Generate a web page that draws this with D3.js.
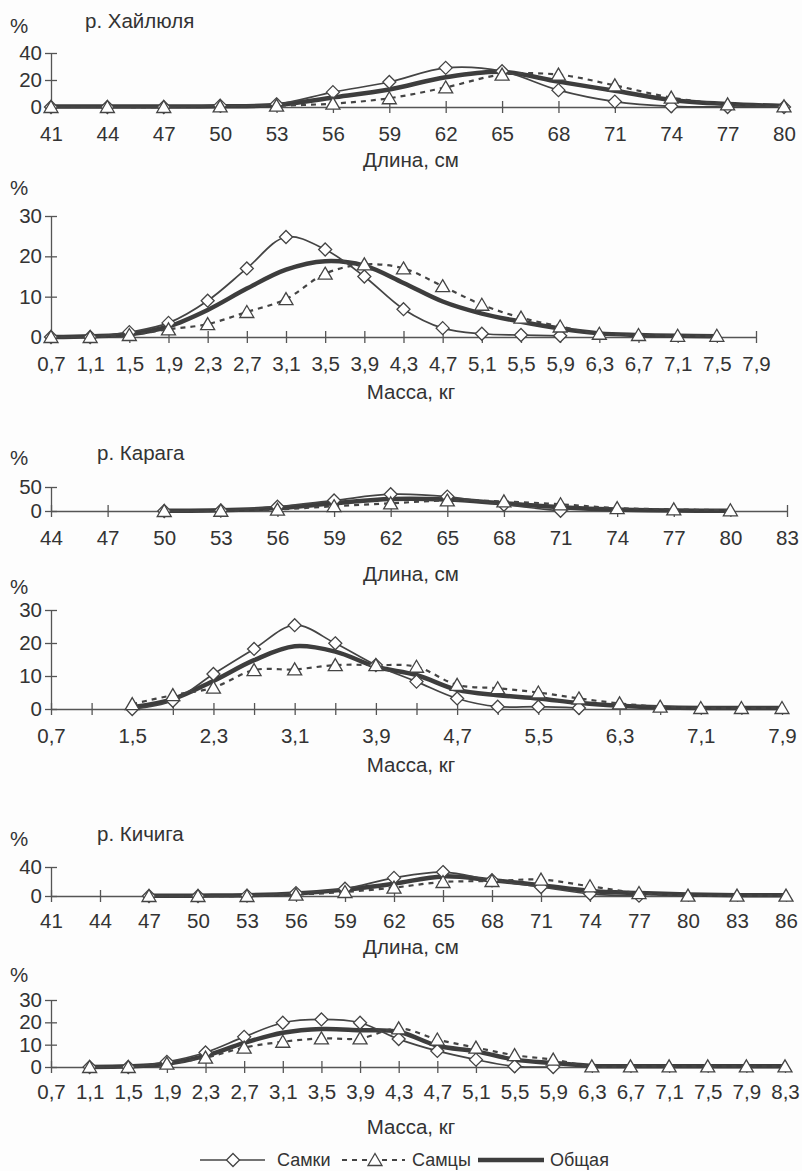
<!DOCTYPE html>
<meta charset="utf-8">
<style>
body { margin: 0; background: #fff; }
svg { font-family: "Liberation Sans", Arial, sans-serif; }
.lbl { fill: #333; font-size: 20.5px; }
.axis text { fill: #333; font-size: 20.5px; }
.axis path, .axis line { stroke: #555; stroke-width: 1.3; }
.fem-line { fill: none; stroke: #444; stroke-width: 1.7; }
.male-line { fill: none; stroke: #444; stroke-width: 2.2; stroke-dasharray: 5,5; }
.total-line { fill: none; stroke: #3d3d3d; stroke-width: 4.5; }
.mark { fill: #fff; stroke: #444; stroke-width: 1.3; }
.legend text { fill: #333; font-size: 18px; }
</style>
<body>
<script src="https://d3js.org/d3.v7.min.js"></script>
<script>

// --- categories (tick labels) ---
var lenHail = ["41","44","47","50","53","56","59","62","65","68","71","74","77","80"];
var massHail = ["0,7","1,1","1,5","1,9","2,3","2,7","3,1","3,5","3,9","4,3","4,7","5,1","5,5","5,9","6,3","6,7","7,1","7,5","7,9"];
var lenKar = ["44","47","50","53","56","59","62","65","68","71","74","77","80","83"];
var massKar = ["0,7","1,1","1,5","1,9","2,3","2,7","3,1","3,5","3,9","4,3","4,7","5,1","5,5","5,9","6,3","6,7","7,1","7,5","7,9"];
var lenKich = ["41","44","47","50","53","56","59","62","65","68","71","74","77","80","83","86"];
var massKich = ["0,7","1,1","1,5","1,9","2,3","2,7","3,1","3,5","3,9","4,3","4,7","5,1","5,5","5,9","6,3","6,7","7,1","7,5","7,9","8,3"];

// --- series values, % ---
var femLenHail   = [0,0,0,1,2,11,18.5,29,26.5,12.5,4,0.5,0,0];
var maleLenHail  = [0,0,0,0.5,1,2.5,6.5,14.5,24,24,16,7,2,0.5];
var totLenHail   = [0.3,0.3,0.3,0.5,1.5,7,13,22,26,18.8,12,5.2,2.2,0.8];

var femMassHail  = [0,0,1.2,3.5,9,17,24.8,21.7,15,6.9,2.2,0.8,0.5,0.3,null,null,null,null,null];
var maleMassHail = [0,0,0.5,1.9,3.2,6.2,9.4,15.7,18,17,12.6,8,4.8,2.6,0.8,0.5,0.3,0.3,null];
var totMassHail  = [0,0.2,0.7,2.6,6.7,12,16.7,18.8,17.7,13.4,8.8,5.8,3.8,2.1,0.9,0.5,0.3,0.2,null];

var femLenKar    = [null,null,0,1,9,22,35,30,13,0.5,null,null,null,null];
var maleLenKar   = [null,null,0,0.5,3,10,16,22,20,14,6,3.5,1.5,null];
var totLenKar    = [null,null,0.5,1.5,6,16,25,24,16,8,3,1,0.5,null];

var femMassKar   = [null,null,0,2.5,10.6,18.2,25.4,19.9,13.3,8.3,3.2,0.7,0.7,0.3,null,null,null,null,null];
var maleMassKar  = [null,null,1.5,4.2,6.5,11.8,12,13.3,13.3,12.8,7.3,6.3,5,3.2,1.7,0.7,0.3,0.3,0.3];
var totMassKar   = [null,null,0.5,3,8.5,14.8,19,17.4,12.8,10.3,5.8,4.2,3.2,1.8,1,0.5,0.3,0.3,0.3];

var femLenKich   = [null,null,0,0,0.5,4,10,25,33,21.7,12.4,3,0.5,null,null,null];
var maleLenKich  = [null,null,0,0,0,2,5.5,11.6,19.3,20.7,22.6,13.4,4.1,0.5,0.5,0.5];
var totLenKich   = [null,null,0.3,0.5,1,3.5,8.8,17,27,21.7,14.8,7,4,2,1,1];

var femMassKich  = [null,0,0,2.3,6.5,13.5,19.8,21.3,19.8,12.5,7.2,3.3,0.3,0,null,null,null,null,null,null];
var maleMassKich = [null,0,0,1.5,4.2,8.7,11.3,12.8,12.8,17.3,12.3,8.7,5.3,3.3,0.3,0.3,0.3,0.3,0.3,0.3];
var totMassKich  = [null,0,0.3,1.5,5,10.8,15.3,17,16.5,15.8,9.5,7,3.3,1.8,0.5,0.3,0.3,0.3,0.3,0.3];

var titles = ["р. Хайлюля", "р. Карага", "р. Кичига"];
var xTitles = ["Длина, см", "Масса, кг"];
var legendNames = ["Самки", "Самцы", "Общая"];

var panels = [
  {cats: lenHail, fem: femLenHail, male: maleLenHail, tot: totLenHail, ymax: 40, yticks: [0,20,40],
   x0: 51, x1: 784, y0: 107, ytop: 53, pctY: 33, title: titles[0], titleX: 85, labelY: 141, xTitle: xTitles[0], xTitleY: 167},
  {cats: massHail, fem: femMassHail, male: maleMassHail, tot: totMassHail, ymax: 30, yticks: [0,10,20,30],
   x0: 51, x1: 756, y0: 337, ytop: 216, pctY: 195, labelY: 371, xTitle: xTitles[1], xTitleY: 399},
  {cats: lenKar, fem: femLenKar, male: maleLenKar, tot: totLenKar, ymax: 50, yticks: [0,50],
   x0: 51, x1: 787, y0: 511, ytop: 487, pctY: 465, title: titles[1], titleX: 97, labelY: 545, xTitle: xTitles[0], xTitleY: 581},
  {cats: massKar, fem: femMassKar, male: maleMassKar, tot: totMassKar, ymax: 30, yticks: [0,10,20,30], every: 2,
   x0: 51, x1: 782, y0: 709, ytop: 610, pctY: 594, labelY: 743, xTitle: xTitles[1], xTitleY: 772},
  {cats: lenKich, fem: femLenKich, male: maleLenKich, tot: totLenKich, ymax: 40, yticks: [0,40],
   x0: 51, x1: 786, y0: 896, ytop: 867, pctY: 846, title: titles[2], titleX: 97, labelY: 928, xTitle: xTitles[0], xTitleY: 954},
  {cats: massKich, fem: femMassKich, male: maleMassKich, tot: totMassKich, ymax: 30, yticks: [0,10,20,30],
   x0: 51, x1: 785, y0: 1067, ytop: 1000, pctY: 982, labelY: 1099, xTitle: xTitles[1], xTitleY: 1134}
];

var diamond = "M0,-6.5L6.5,0L0,6.5L-6.5,0Z";
var triangle = "M0,-6.5L7,5.5L-7,5.5Z";

var svg = d3.select("body").append("svg")
    .attr("width", 802)
    .attr("height", 1171);

svg.append("rect").attr("width", 802).attr("height", 1171).attr("fill", "#fdfdfd");

function drawPanel(p) {
  var x = d3.scalePoint().domain(p.cats).range([p.x0, p.x1]);
  var y = d3.scaleLinear().domain([0, p.ymax]).range([p.y0, p.ytop]);
  var g = svg.append("g");

  var xa = g.append("g").attr("class", "axis")
      .attr("transform", "translate(0," + p.y0 + ")")
      .call(d3.axisBottom(x).tickSizeOuter(0).tickSizeInner(6)
        .tickFormat(function(d, i) { return p.every && i % p.every ? "" : d; }));
  xa.attr("font-size", null).attr("font-family", null);
  xa.selectAll(".tick line").attr("y1", -6).attr("y2", 6);
  xa.selectAll(".tick text").attr("dy", null).attr("y", p.labelY - p.y0);

  var ya = g.append("g").attr("class", "axis")
      .attr("transform", "translate(" + p.x0 + ",0)")
      .call(d3.axisLeft(y).tickValues(p.yticks).tickSizeOuter(0).tickSizeInner(6).tickPadding(3));
  ya.attr("font-size", null).attr("font-family", null);
  ya.selectAll(".tick line").attr("x1", -6).attr("x2", 6);

  g.append("text").attr("class", "lbl").attr("x", 10).attr("y", p.pctY).text("%");
  if (p.title) g.append("text").attr("class", "lbl").attr("x", p.titleX).attr("y", p.pctY - 5).text(p.title);
  g.append("text").attr("class", "lbl").attr("x", 411).attr("y", p.xTitleY)
      .attr("text-anchor", "middle").text(p.xTitle);

  var line = d3.line()
      .defined(function(d) { return d != null; })
      .x(function(d, i) { return x(p.cats[i]); })
      .y(function(d) { return y(d); })
      .curve(d3.curveCatmullRom.alpha(0.5));

  g.append("path").datum(p.tot).attr("class", "total-line").attr("d", line);
  g.append("path").datum(p.fem).attr("class", "fem-line").attr("d", line);
  g.append("path").datum(p.male).attr("class", "male-line").attr("d", line);

  [[p.fem, diamond], [p.male, triangle]].forEach(function(s) {
    g.selectAll(null)
      .data(s[0].map(function(v, i) { return {v: v, c: p.cats[i]}; }).filter(function(d) { return d.v != null; }))
      .enter().append("path")
      .attr("class", "mark")
      .attr("d", s[1])
      .attr("transform", function(d) { return "translate(" + x(d.c) + "," + y(d.v) + ")"; });
  });
}

panels.forEach(drawPanel);

// legend
var lg = svg.append("g").attr("class", "legend").attr("transform", "translate(0,1160)");
lg.append("line").attr("class", "fem-line").attr("x1", 200).attr("x2", 265).attr("y1", 0).attr("y2", 0);
lg.append("path").attr("class", "mark").attr("d", diamond).attr("transform", "translate(233,0)");
lg.append("text").attr("x", 277).attr("y", 6).text(legendNames[0]);
lg.append("line").attr("class", "male-line").attr("x1", 342).attr("x2", 405).attr("y1", 0).attr("y2", 0);
lg.append("path").attr("class", "mark").attr("d", triangle).attr("transform", "translate(375,0)");
lg.append("text").attr("x", 412).attr("y", 6).text(legendNames[1]);
lg.append("line").attr("class", "total-line").attr("x1", 478).attr("x2", 544).attr("y1", 0).attr("y2", 0);
lg.append("text").attr("x", 550).attr("y", 6).text(legendNames[2]);

</script>
